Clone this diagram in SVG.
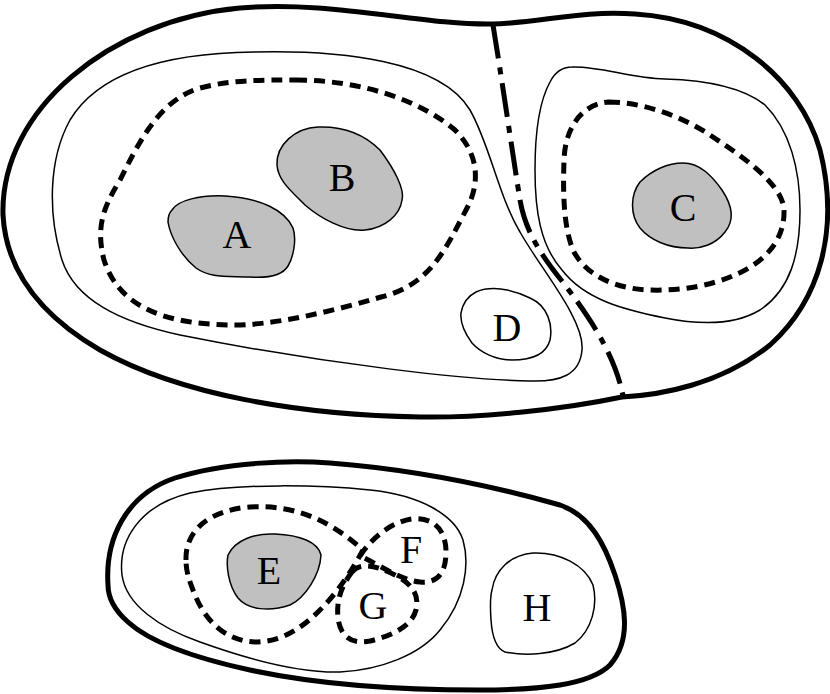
<svg xmlns="http://www.w3.org/2000/svg" width="830" height="694" viewBox="0 0 830 694">
<style>
.thick{fill:none;stroke:#000;stroke-width:5;stroke-linejoin:round}
.thin{fill:none;stroke:#000;stroke-width:1.5}
.dash{fill:none;stroke:#000;stroke-width:5;stroke-dasharray:11 7}
.dashdot{fill:none;stroke:#000;stroke-width:5;stroke-dasharray:34 9 7 9}
.gray{fill:#c0c0c0;stroke:#000;stroke-width:1.5}
.lbl{font-family:"Liberation Serif","Times New Roman",serif;font-size:40px;text-anchor:middle;fill:#000}
</style>
<rect width="830" height="694" fill="#fff"/>
<g id="top-outer"><path class="thick" d="M 3,215 C 0,110 110,20 240,8 C 330,0 420,25 492,24 C 540,23 580,10 635,14 C 730,20 800,80 820,150 C 840,230 820,300 770,345 C 720,385 660,395 622,397 C 560,410 480,418 420,417 C 300,415 180,395 100,350 C 40,315 6,270 3,215 Z"/></g>
<g id="divider"><path class="dashdot" d="M 493,25 C 502,80 512,150 520,200 C 526,235 545,260 565,285 C 590,318 615,355 623,396"/></g>
<g id="left-region"><path class="thin" d="M 254,52 C 340,50 440,60 470,110 C 490,145 498,195 520,232 C 540,268 585,320 582,350 C 580,375 560,382 530,381 C 470,380 330,365 180,335 C 120,322 75,300 62,260 C 48,215 48,160 70,120 C 100,70 170,53 254,52 Z"/></g>
<g id="ab-dashed"><path class="dash" d="M 296,80 C 360,80 420,100 455,130 C 480,155 480,185 466,210 C 445,250 430,285 381,297 C 330,312 270,326 230,325 C 170,324 120,310 104,260 C 95,225 105,205 120,180 C 140,140 160,100 200,88 C 230,80 260,80 296,80 Z"/></g>
<g id="A"><path class="gray" d="M 172,210 C 178,200 200,195 225,196 C 260,198 285,210 293,228 C 297,240 293,258 288,266 C 282,276 265,278 250,277 C 225,276 210,278 196,268 C 180,255 170,235 168,222 C 168,215 170,212 172,210 Z"/><text class="lbl" x="237" y="248">A</text></g>
<g id="B"><path class="gray" d="M 277,165 C 276,145 295,128 318,127 C 345,126 365,135 380,150 C 395,170 405,190 402,200 C 400,215 385,228 365,230 C 345,232 320,218 305,205 C 290,190 278,180 277,165 Z"/><text class="lbl" x="342" y="191">B</text></g>
<g id="right-region"><path class="thin" d="M 572,67 C 600,66 630,78 665,79 C 700,80 740,85 765,105 C 790,130 800,170 800,210 C 800,255 790,290 760,310 C 735,325 700,325 665,318 C 625,310 585,300 562,270 C 540,245 535,210 535,170 C 535,130 540,100 550,82 C 555,72 563,67 572,67 Z"/></g>
<g id="c-dashed"><path class="dash" d="M 609,102 C 640,102 680,115 710,135 C 745,158 783,185 784,210 C 785,240 765,262 735,275 C 710,286 680,291 650,290 C 615,289 585,275 573,250 C 563,225 563,190 564,160 C 565,130 580,104 609,102 Z"/></g>
<g id="C"><path class="gray" d="M 683,163 C 700,163 712,176 722,190 C 732,205 735,220 725,232 C 715,245 700,249 688,248 C 668,248 650,240 640,228 C 630,215 630,195 640,182 C 652,170 668,163 683,163 Z"/><text class="lbl" x="683" y="221">C</text></g>
<g id="D"><path class="thin" d="M 476,292 C 490,286 510,288 530,298 C 548,306 553,325 550,340 C 546,355 532,360 512,360 C 495,360 480,352 472,343 C 464,332 460,322 461,313 C 463,302 468,296 476,292 Z"/><text class="lbl" x="507" y="341">D</text></g>
<g id="bottom-outer"><path class="thick" d="M 108,585 C 105,540 125,495 175,478 C 225,462 290,460 330,463 C 420,470 500,488 560,505 C 590,515 605,545 615,575 C 625,605 632,640 610,665 C 590,685 540,690 480,690 C 400,690 320,685 250,670 C 190,657 150,642 128,622 C 112,608 108,595 108,585 Z"/></g>
<g id="bottom-region"><path class="thin" d="M 122,575 C 118,540 140,505 190,493 C 240,483 320,485 370,490 C 420,495 455,515 463,540 C 470,565 465,600 440,630 C 420,655 380,670 340,672 C 300,673 250,660 200,642 C 160,628 126,605 122,575 Z"/></g>
<g id="e-dashed"><path class="dash" d="M 186,560 C 185,530 210,510 250,507 C 300,504 335,525 363,550 C 355,565 340,590 320,610 C 300,630 280,642 255,642 C 225,641 205,620 195,595 C 188,578 186,570 186,560 Z"/></g>
<g id="E"><path class="gray" d="M 228,555 C 235,540 255,533 275,534 C 300,535 318,542 321,555 C 320,575 305,598 290,605 C 270,612 248,610 238,598 C 228,585 226,565 228,555 Z"/><text class="lbl" x="269" y="584">E</text></g>
<g id="F"><path class="dash" d="M 360,556 C 370,540 390,522 412,519 C 434,517 446,530 446,552 C 446,572 438,584 420,582 C 400,580 380,565 360,556 Z"/><text class="lbl" x="411" y="563">F</text></g>
<g id="G"><path class="dash" d="M 352,572 C 360,562 375,565 395,575 C 410,583 420,593 416,610 C 412,625 395,635 370,641 C 350,645 340,635 338,618 C 336,600 342,585 352,572 Z"/><text class="lbl" x="373" y="619">G</text></g>
<g id="H"><path class="thin" d="M 492,590 C 495,570 510,555 533,553 C 560,552 585,565 593,585 C 598,605 592,630 575,643 C 555,655 525,656 505,652 C 495,648 492,635 491,620 C 490,605 490,597 492,590 Z"/><text class="lbl" x="537" y="621">H</text></g>
<g id="connectors"/>
</svg>
